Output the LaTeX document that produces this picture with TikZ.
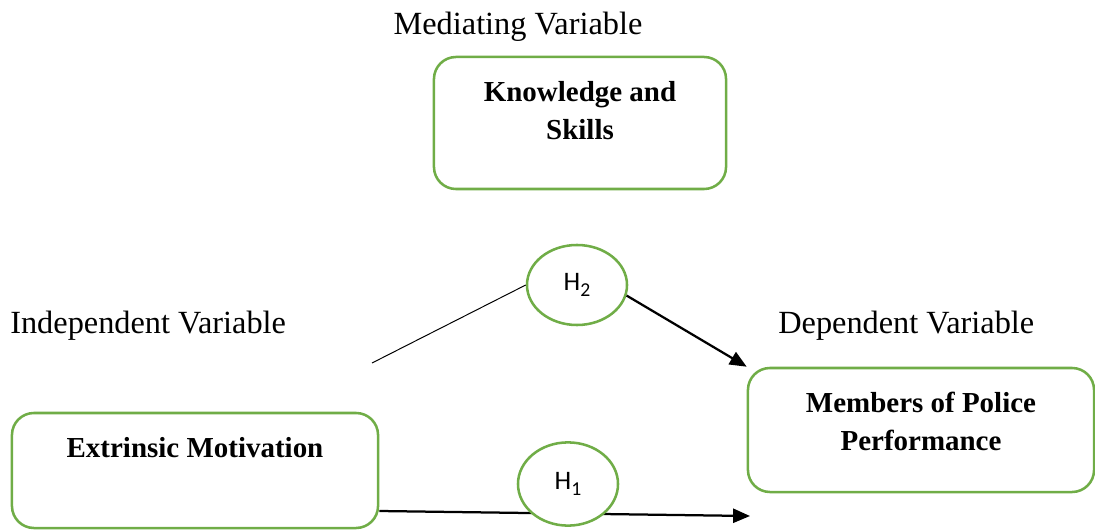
\documentclass[tikz,border=0pt]{standalone}
\usepackage{fontspec}
\setmainfont{Liberation Serif}
\newfontfamily\hfont{Carlito}
\usetikzlibrary{arrows.meta, shapes.geometric}
\definecolor{boxgreen}{HTML}{70AD47}
\newcommand{\hsub}[1]{\raisebox{-0.45ex}{\fontsize{14}{16}\selectfont #1}}

\begin{document}
\begin{tikzpicture}[x=0.025cm, y=-0.025cm,
    varbox/.style={draw=boxgreen, line width=1.8pt, rounded corners=0.55cm, inner sep=0pt},
    hyp/.style={draw=boxgreen, fill=white, line width=1.8pt, ellipse, inner sep=0pt, font=\hfont\fontsize{19}{22}\selectfont},
    vlabel/.style={inner sep=0pt, font=\fontsize{23}{27}\selectfont},
    arr/.style={-{Triangle[length=12pt, width=10pt]}, line width=1.6pt}]
    \useasboundingbox (0,0) rectangle (1095,530);

    % Nodes
    \node[vlabel, anchor=base] (medlab) at (518,35) {Mediating Variable};
    \node[vlabel, anchor=base west] (indlab) at (10,333) {Independent Variable};
    \node[vlabel, anchor=base west] (deplab) at (778,333) {Dependent Variable};

    \node[varbox] (know) at (580,123) {\begin{minipage}[c][3.3cm][t]{7.3cm}\centering
        \vspace*{0.62cm}\fontsize{20.6}{26.9}\selectfont\bfseries Knowledge and\\Skills\end{minipage}};
    \node[varbox] (ext) at (195,470.5) {\begin{minipage}[c][2.875cm][t]{9.15cm}\centering
        \vspace*{0.62cm}\fontsize{20.6}{26.9}\selectfont\bfseries Extrinsic Motivation\end{minipage}};
    \node[varbox] (perf) at (921,430) {\begin{minipage}[c][3.1cm][t]{8.65cm}\centering
        \vspace*{0.6cm}\fontsize{20.6}{26.9}\selectfont\bfseries Members of Police\\Performance\end{minipage}};

    \node[hyp, minimum width=2.5cm, minimum height=2cm] (h2) at (577,285) {H\hsub{2}};
    \coordinate (h2from) at (372,363);
    \coordinate (h1to) at (750,516);

    % Edges
    \draw[line width=0.7pt] (h2from) -- (h2.west);
    \draw[arr] (h2.-12) -- (perf.north west);
    \draw[arr] (ext.east |- 0,511) -- (h1to);

    % H1 sits on top of its arrow
    \node[hyp, minimum width=2.5cm, minimum height=2.08cm] (h1) at (568,484) {H\hsub{1}};
\end{tikzpicture}
\end{document}
